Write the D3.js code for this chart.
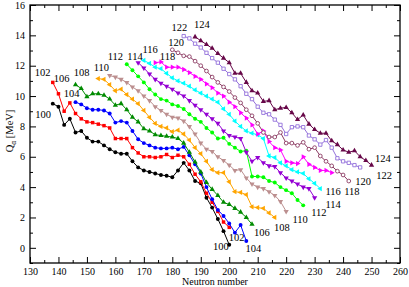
<!DOCTYPE html>
<html>
<head>
<meta charset="utf-8">
<script src="https://cdn.jsdelivr.net/npm/d3@7"></script>
<style>
  body { margin: 0; background: #fff; }
  text { font-family: "Liberation Serif", "Times New Roman", serif; }
</style>
</head>
<body>
<div id="chart"></div>
<script>
// proton numbers, one line each
var zs = [100, 102, 104, 106, 108, 110, 112, 114, 116, 118, 120, 122, 124];
// first neutron number of each line (points every 2 neutrons)
var nStart = [138, 138, 146, 146, 154, 158, 164, 168, 170, 174, 180, 184, 188];

var q100 = [9.5, 9.3, 8.1, 8.5, 7.6, 7.7, 7.25, 7.0, 7.0, 6.75, 6.5, 6.3, 6.2, 6.2, 5.7, 5.3,
            5.1, 5.0, 4.9, 4.8, 4.75, 4.65, 5.1, 5.6, 5.1, 4.4, 4.25, 3.3, 2.65, 1.9, 1.1, 0.2];
var q102 = [10.9, 10.15, 9.0, 9.55, 8.85, 8.5, 8.3, 8.25, 8.15, 8.05, 7.9, 7.2, 7.2, 7.2, 6.6, 6.25,
            6.0, 6.0, 5.95, 6.0, 6.15, 5.95, 6.1, 6.0, 5.5, 4.85, 4.35, 3.6, 3.0, 2.4, 1.7, 1.35];
var q104 = [9.6, 9.45, 9.2, 9.1, 9.1, 9.05, 8.85, 8.25, 8.35, 8.25, 7.7, 7.15, 6.9, 6.75, 6.6, 6.55,
            6.55, 6.6, 6.5, 6.65, 6.1, 5.5, 4.9, 4.0, 3.2, 2.5, 2.1, 1.6, 1.0, 1.5, 0.45];
var q106 = [10.75, 10.5, 9.95, 10.15, 10.15, 10.05, 9.8, 9.4, 9.5, 9.1, 8.6, 8.3, 7.85, 7.7, 7.45, 7.4,
            7.35, 7.3, 7.2, 6.9, 6.3, 5.65, 5.0, 4.3, 3.85, 3.45, 3.0, 2.85, 2.6, 2.35, 2.0, 1.55];
var q108 = [11.15, 11.1, 10.75, 10.35, 10.45, 10.1, 9.8, 9.5, 9.05, 8.6, 8.2, 8.0, 7.9, 7.65, 7.75, 7.5,
            7.1, 6.6, 6.2, 5.7, 5.15, 4.95, 4.95, 4.35, 3.7, 3.65, 3.5, 2.7, 2.65, 2.6, 2.3, 2.0];
var q110 = [11.35, 11.25, 11.1, 10.9, 10.6, 10.35, 10.0, 9.7, 9.3, 9.05, 8.8, 8.6, 8.55, 8.35, 8.0, 7.5,
            6.9, 6.5, 6.35, 6.0, 5.75, 5.45, 5.1, 5.15, 4.6, 4.2, 4.0, 3.9, 3.7, 3.45, 3.05, 2.4];
var q112 = [12.1, 11.7, 11.3, 10.9, 10.45, 10.1, 9.8, 9.7, 9.45, 9.35, 9.15, 8.8, 8.5, 8.3, 7.9, 7.6,
            7.2, 7.25, 6.85, 6.6, 6.35, 6.4, 4.7, 4.7, 4.65, 4.4, 4.3, 4.0, 3.8, 3.6, 3.15, 2.8];
var q114 = [12.2, 11.85, 11.45, 11.1, 10.85, 10.65, 10.45, 10.2, 10.0, 9.7, 9.4, 9.1, 8.8, 8.5, 8.2, 7.7,
            7.4, 7.3, 7.2, 6.3, 5.7, 5.95, 5.6, 5.4, 5.35, 4.95, 4.6, 4.4, 4.2, 4.0, 3.9, 3.3];
var q116 = [12.35, 12.15, 11.9, 11.8, 11.5, 11.2, 11.0, 10.85, 10.65, 10.4, 10.2, 10.0, 9.8, 9.6, 9.15, 8.8,
            8.35, 8.0, 7.7, 7.55, 7.45, 7.2, 6.05, 5.95, 5.6, 5.4, 5.15, 5.0, 4.9, 4.55, 4.25, 3.9];
var q118 = [12.2, 12.25, 11.9, 11.9, 11.9, 11.75, 11.55, 11.3, 11.1, 10.8, 10.55, 10.2, 10.0, 9.6, 9.3, 8.9,
            8.55, 8.1, 7.5, 7.7, 7.0, 6.6, 6.45, 5.7, 5.6, 5.55, 6.0, 5.5, 5.3, 5.1, 5.1, 4.95];
var q120 = [13.05, 12.85, 12.65, 12.6, 12.3, 12.0, 11.65, 11.25, 10.9, 10.6, 10.3, 9.9, 9.55, 9.1, 8.7, 8.2,
            7.6, 7.3, 7.3, 7.6, 6.9, 6.9, 6.75, 6.95, 6.5, 6.6, 6.05, 5.7, 5.4, 5.05, 4.8, 4.4];
var q122 = [13.95, 13.8, 13.45, 13.2, 12.85, 12.5, 12.2, 11.8, 11.45, 11.1, 10.65, 10.15, 9.8, 9.3, 8.9, 8.8,
            8.45, 8.1, 7.5, 7.95, 8.0, 7.95, 7.4, 7.15, 6.8, 7.1, 6.6, 5.9, 5.7, 5.6, 5.45, 5.3];
var q124 = [13.9, 13.65, 13.4, 13.15, 12.8, 12.5, 12.2, 11.5, 11.5, 10.9, 10.35, 10.2, 9.65, 9.7, 9.1, 9.2,
            9.25, 8.9, 8.45, 8.75, 8.15, 7.8, 7.55, 7.55, 7.05, 6.8, 6.45, 6.3, 6.4, 6.0, 5.75, 5.45];
var qValues = [q100, q102, q104, q106, q108, q110, q112, q114, q116, q118, q120, q122, q124];

// label spots, in data units (N, Q)
var startLabelN = [134.6, 134.4, 144.6, 141.1, 148.1, 155.1, 160.0, 166.9, 172.2, 178.3, 181.3, 182.5, 190.4];
var startLabelQ = [8.78, 11.56, 10.17, 11.13, 11.52, 11.85, 12.61, 12.58, 13.07, 12.58, 13.53, 14.49, 14.72];
var endLabelN = [197.1, 202.6, 208.5, 211.5, 218.5, 224.9, 231.5, 236.5, 236.5, 243.1, 247.0, 254.4, 254.0];
var endLabelQ = [0.09, 0.68, -0.05, 1.04, 1.34, 1.86, 2.33, 2.85, 3.71, 3.71, 4.34, 4.77, 5.89];

var xTicks = [130, 140, 150, 160, 170, 180, 190, 200, 210, 220, 230, 240, 250, 260];
var yTicks = [0, 2, 4, 6, 8, 10, 12, 14, 16];

var colors = ["#000000", "#ff0000", "#0000ff", "#008b00", "#ffa500", "#bc8f8f", "#00ff00",
              "#9400d3", "#00ffff", "#ff00ff", "#8b3a62", "#9370db", "#670748"];
var shapes = ["circle", "square", "circle", "up", "left", "down", "circle",
              "down", "left", "right", "circle", "square", "up"];
var hollow = [false, false, false, false, false, false, false, false, false, false, true, true, false];

var w = 409;
var h = 287;
var pLeft = 30, pRight = 400, pTop = 5, pBottom = 263;

var svg = d3.select("#chart")
			.append("svg")
			.attr("width", w)
			.attr("height", h);

var x = d3.scaleLinear().domain([130, 260]).range([pLeft, pRight]);
var y = d3.scaleLinear().domain([-1, 16]).range([pBottom, pTop]);

// minor ticks first, then major with labels
function ticks(gen, vals, size, labels) {
	return gen.tickValues(vals).tickSize(size).tickPadding(5)
			  .tickFormat(labels ? d3.format("d") : "");
}
var xMinor = d3.range(135, 260, 10);
var yMinor = d3.range(-1, 16, 2);

svg.append("g").attr("transform", "translate(0," + pBottom + ")")
	.call(ticks(d3.axisBottom(x), xMinor, -3, false));
svg.append("g").attr("transform", "translate(0," + pBottom + ")")
	.call(ticks(d3.axisBottom(x), xTicks, -6, true));
svg.append("g").attr("transform", "translate(0," + pTop + ")")
	.call(ticks(d3.axisTop(x), xMinor, -3, false));
svg.append("g").attr("transform", "translate(0," + pTop + ")")
	.call(ticks(d3.axisTop(x), xTicks, -6, false));
svg.append("g").attr("transform", "translate(" + pLeft + ",0)")
	.call(ticks(d3.axisLeft(y), yMinor, -3, false));
svg.append("g").attr("transform", "translate(" + pLeft + ",0)")
	.call(ticks(d3.axisLeft(y), yTicks, -6, true));
svg.append("g").attr("transform", "translate(" + pRight + ",0)")
	.call(ticks(d3.axisRight(y), yMinor, -3, false));
svg.append("g").attr("transform", "translate(" + pRight + ",0)")
	.call(ticks(d3.axisRight(y), yTicks, -6, false));

svg.selectAll(".domain").remove();
svg.selectAll(".tick line").attr("stroke", "#000").attr("stroke-width", 1);
svg.selectAll(".tick text")
	.attr("font-family", "Liberation Serif")
	.attr("font-size", 10)
	.attr("fill", "#000");

svg.append("rect")
	.attr("x", pLeft)
	.attr("y", pTop)
	.attr("width", pRight - pLeft)
	.attr("height", pBottom - pTop)
	.attr("fill", "none")
	.attr("stroke", "#000")
	.attr("stroke-width", 1.3);

var symbolType = { circle: d3.symbolCircle, square: d3.symbolSquare,
				   up: d3.symbolTriangle, down: d3.symbolTriangle,
				   left: d3.symbolTriangle, right: d3.symbolTriangle };
var symbolTurn = { circle: 0, square: 0, up: 0, down: 180, left: -90, right: 90 };
var symbolSize = { circle: 12, square: 12, up: 12, down: 12, left: 12, right: 12 };

var line = d3.line()
			 .x(d => x(d.n))
			 .y(d => y(d.q));

zs.forEach(function(z, i) {
	var pts = qValues[i].map((q, k) => ({ n: nStart[i] + 2 * k, q: q }));
	var g = svg.append("g");
	g.append("path")
		.datum(pts)
		.attr("d", line)
		.attr("fill", "none")
		.attr("stroke", colors[i])
		.attr("stroke-width", 1);
	var s = shapes[i];
	g.selectAll("path.pt")
		.data(pts)
		.enter()
		.append("path")
		.attr("class", "pt")
		.attr("d", d3.symbol().type(symbolType[s]).size(hollow[i] ? 11 : symbolSize[s]))
		.attr("transform", d => "translate(" + x(d.n) + "," + y(d.q) + ") rotate(" + symbolTurn[s] + ")")
		.attr("fill", hollow[i] ? "#fff" : colors[i])
		.attr("stroke", colors[i])
		.attr("stroke-width", hollow[i] ? 0.9 : 0);

	svg.append("text")
		.attr("x", x(startLabelN[i]))
		.attr("y", y(startLabelQ[i]))
		.attr("text-anchor", "middle")
		.attr("dominant-baseline", "central")
		.attr("font-size", 10.5)
		.text(z);
	svg.append("text")
		.attr("x", x(endLabelN[i]))
		.attr("y", y(endLabelQ[i]))
		.attr("text-anchor", "middle")
		.attr("dominant-baseline", "central")
		.attr("font-size", 10.5)
		.text(z);
});

svg.append("text")
	.attr("x", (pLeft + pRight) / 2)
	.attr("y", 285)
	.attr("text-anchor", "middle")
	.attr("font-size", 10)
	.text("Neutron number");

var yt = svg.append("text")
	.attr("transform", "translate(13,131) rotate(-90)")
	.attr("text-anchor", "middle")
	.attr("font-size", 10.5);
yt.append("tspan").text("Q");
yt.append("tspan").attr("font-size", 7.5).attr("dy", 3).text("α");
yt.append("tspan").attr("dy", -3).text(" [MeV]");
</script>
</body>
</html>
